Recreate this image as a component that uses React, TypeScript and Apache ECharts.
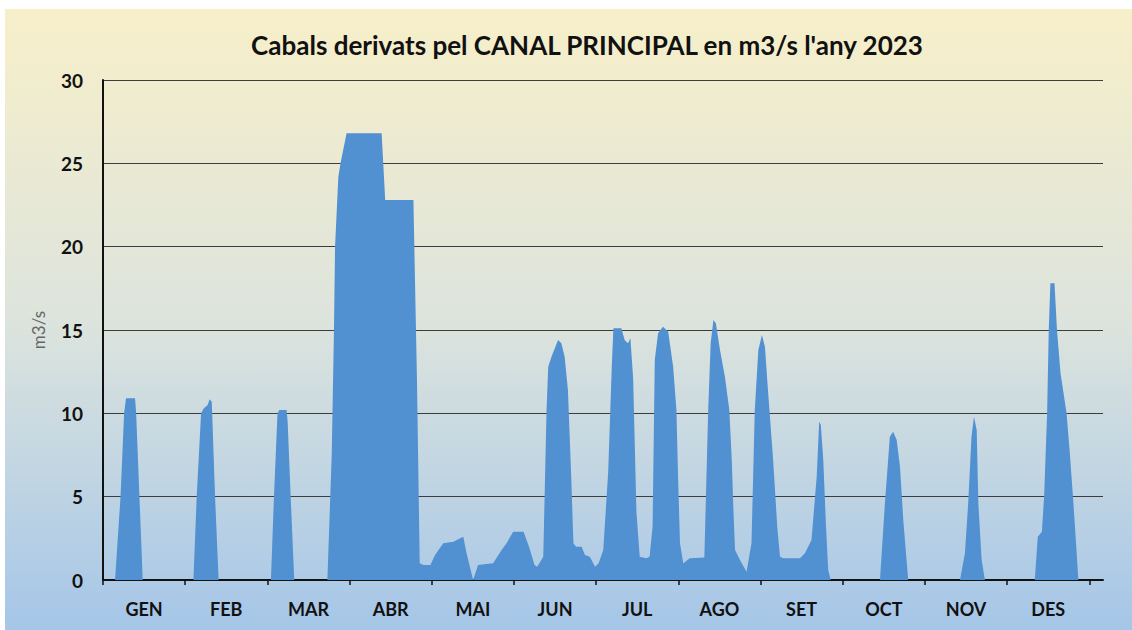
import React, { useEffect, useRef } from 'react';
import * as echarts from 'echarts';

const TITLE = "Cabals derivats pel CANAL PRINCIPAL en m3/s l'any 2023";
const Y_NAME = 'm3/s';
const MONTHS = ['GEN', 'FEB', 'MAR', 'ABR', 'MAI', 'JUN', 'JUL', 'AGO', 'SET', 'OCT', 'NOV', 'DES'];
const MONTH_TICKS = [0, 30, 60, 90, 120, 150, 180, 210, 240, 270, 300, 330, 360];
const MONTH_LABEL_DAYS = [15, 45, 75, 105, 135, 165, 195, 225, 255, 285, 315, 345];

// [day of year, m3/s]
const genFlow = [[0, 0], [4.4, 0], [6.4, 5], [7.7, 10], [8.4, 10.9], [11.7, 10.9], [12.1, 10], [13.3, 5], [14.5, 0]];
const febFlow = [[33, 0], [34.2, 5], [35.8, 10], [36.8, 10.3], [38.2, 10.5], [38.9, 10.85], [39.7, 10.7], [40.9, 5], [42.2, 0]];
const marFlow = [[61.3, 0], [62.4, 5], [63.7, 10], [64.4, 10.2], [67, 10.2], [67.4, 9.5], [68.5, 5], [69.8, 0]];
const abrFlow = [[81.9, 0], [83.5, 7.6], [84.3, 15], [84.7, 20], [85.9, 24.2], [86.7, 25], [88.9, 26.8], [101.7, 26.8], [103, 22.8], [113.3, 22.8], [114.6, 12], [115.6, 1.0]];
const maiFlow = [[117, 0.9], [119.5, 0.9], [121.2, 1.5], [124.2, 2.2], [127.9, 2.3], [131.5, 2.6], [132.7, 1.6], [135.1, 0], [136.9, 0.9], [142.4, 1.0], [145.5, 1.8], [147.3, 2.2], [149.7, 2.9], [153.5, 2.9], [155.5, 2.0], [157.5, 0.9], [158.5, 0.8]];
const junFlow = [[160.7, 1.4], [161.9, 10.2], [162.5, 12.8], [163.7, 13.4], [166.1, 14.4], [167.3, 14.2], [168.5, 13.4], [169.7, 11.4], [170.9, 6.2], [171.7, 2.2], [172.7, 2.0], [174.7, 2.0], [175.9, 1.5], [177.7, 1.4], [179.6, 0.8], [180.9, 1.0]];
const julFlow = [[182.6, 1.8], [184.4, 6.5], [185.7, 12.8], [186.3, 15.1], [189.2, 15.1], [190.4, 14.4], [191.6, 14.2], [192.5, 14.5], [193.5, 12.1], [194.7, 4.1], [195.9, 1.4], [198.3, 1.3], [199.5, 1.4], [200.6, 3.2], [201.4, 13.2], [202.6, 14.8], [204.4, 15.2], [206.3, 14.9], [208.1, 12.8], [209.3, 10.2], [209.9, 6.2], [210.6, 2.2], [211.8, 1.0], [214.2, 1.3]];
const agoFlow = [[219.5, 1.35], [220.9, 10.2], [221.8, 14.2], [222.8, 15.6], [223.7, 15.4], [225.2, 13.8], [227, 12.2], [228.6, 10.2], [229.5, 7.2], [230.1, 4.2], [230.7, 1.8], [232.5, 1.2], [234.9, 0.5]];
const setFlow = [[236.7, 2.2], [237.9, 10.2], [239.2, 13.8], [240.5, 14.7], [241.6, 14.0], [242.8, 11.2], [244.6, 7.2], [246.1, 3.2], [247.1, 1.4], [248.3, 1.3], [254.4, 1.3], [256.2, 1.6], [258.6, 2.4], [260.5, 6.2], [261.4, 9.5], [262, 9.3], [262.9, 7.2], [263.9, 3.2], [264.7, 0.6], [265.6, 0]];
const octFlow = [[283.6, 0], [285.4, 4.6], [287.2, 8.6], [288.4, 8.9], [289.7, 8.4], [290.9, 6.8], [292.1, 3.6], [293.9, 0]];
const novFlow = [[312.8, 0], [314.6, 1.6], [315.8, 4.6], [317, 8.6], [317.9, 9.8], [318.9, 9.0], [319.5, 4.6], [320.7, 1.2], [321.9, 0]];
const desFlow = [[340.1, 0], [341.2, 2.6], [342.7, 2.9], [343.5, 5], [344.6, 10], [345.2, 15], [345.8, 17.8], [347.3, 17.8], [348.2, 15], [349.5, 12.4], [351.7, 10], [352.9, 7.6], [354.2, 4.6], [355.4, 1.6], [356, 0], [365, 0]];

const FONT = 'Lato, "Open Sans", sans-serif';

export default function App() {
  const ref = useRef<HTMLDivElement>(null);

  useEffect(() => {
    document.body.style.margin = '0';
    if (!ref.current) return;
    const chart = echarts.init(ref.current, null, { renderer: 'svg' });
    const data = [
      ...genFlow, ...febFlow, ...marFlow, ...abrFlow, ...maiFlow, ...junFlow,
      ...julFlow, ...agoFlow, ...setFlow, ...octFlow, ...novFlow, ...desFlow,
    ];
    chart.setOption({
      animation: false,
      backgroundColor: new echarts.graphic.LinearGradient(0, 0, 0, 1, [
        { offset: 0, color: '#f7efc9' },
        { offset: 0.5, color: '#dde4dd' },
        { offset: 1, color: '#a5c6e8' },
      ]),
      graphic: [
        {
          type: 'text',
          x: 582,
          y: 36,
          style: {
            text: TITLE,
            font: `bold 26px ${FONT}`,
            fill: '#111',
            align: 'center',
            verticalAlign: 'middle',
          },
        },
      ],
      grid: { left: 98, top: 71, width: 1000, height: 500, containLabel: false },
      xAxis: {
        type: 'value',
        min: 0,
        max: 365,
        interval: 30,
        axisLine: { show: true, lineStyle: { color: '#111', width: 2 } },
        axisTick: {
          show: true,
          length: 5,
          customValues: MONTH_TICKS,
          lineStyle: { color: '#111', width: 1.5 },
        },
        axisLabel: {
          customValues: MONTH_LABEL_DAYS,
          formatter: (v: number) => MONTHS[MONTH_LABEL_DAYS.indexOf(v)] ?? '',
          color: '#111',
          fontFamily: FONT,
          fontWeight: 'bold',
          fontSize: 18,
          margin: 20,
        },
        splitLine: { show: false },
      },
      yAxis: {
        type: 'value',
        min: 0,
        max: 30,
        interval: 5,
        name: Y_NAME,
        nameLocation: 'middle',
        nameGap: 56,
        nameRotate: 90,
        nameTextStyle: { color: '#666', fontFamily: FONT, fontSize: 17 },
        axisLine: { show: true, lineStyle: { color: '#111', width: 2 } },
        axisTick: { show: false },
        axisLabel: {
          color: '#111',
          fontFamily: FONT,
          fontWeight: 'bold',
          fontSize: 19,
          margin: 20,
        },
        splitLine: { show: true, lineStyle: { color: '#3c3c3c', width: 1 } },
      },
      series: [
        {
          type: 'line',
          data,
          symbol: 'none',
          smooth: false,
          lineStyle: { width: 0 },
          areaStyle: { color: '#5190d1', opacity: 1 },
          z: 3,
        },
      ],
    });
    return () => chart.dispose();
  }, []);

  return (
    <div style={{ position: 'relative', width: 1132, height: 630, background: '#fff' }}>
      <div ref={ref} style={{ position: 'absolute', left: 5, top: 9, width: 1127, height: 621 }} />
    </div>
  );
}
